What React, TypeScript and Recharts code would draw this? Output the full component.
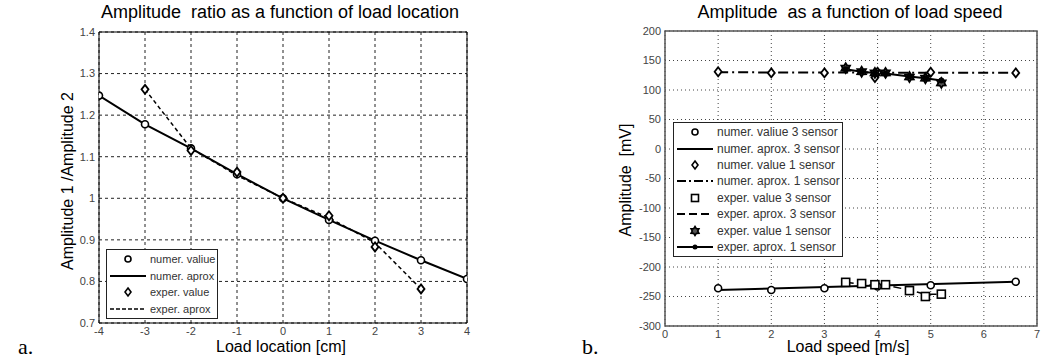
import React from 'react';
import { ComposedChart, Line, Scatter, XAxis, YAxis, CartesianGrid, ReferenceArea, Legend } from 'recharts';

// ---- Chart a: amplitude ratio vs load location ----
const locX = [-4, -3, -2, -1, 0, 1, 2, 3, 4];
const numerRatio = [1.247, 1.178, 1.12, 1.058, 1.0, 0.948, 0.898, 0.851, 0.806];
const experLocX = [-3, -2, -1, 0, 1, 2, 3];
const experRatio = [1.262, 1.115, 1.063, 1.0, 0.958, 0.883, 0.782];
const experAproxRatio = [1.262, 1.12, 1.055, 1.0, 0.953, 0.893, 0.782];
const locTicks = [-4, -3, -2, -1, 0, 1, 2, 3, 4];
const ratioTicks = [0.7, 0.8, 0.9, 1.0, 1.1, 1.2, 1.3, 1.4];

// ---- Chart b: amplitude vs load speed ----
const numSpeed = [1, 2, 3, 4, 5, 6.6];
const numer3 = [-236, -239, -236, -233, -231, -225];
const numer1Speed = [1, 2, 3, 3.95, 4, 5, 6.6];
const numer1 = [131, 129, 129, 121, 130, 130, 129];
const aproxSpeed = [1, 6.6];
const numer3Aprox = [-239, -225];
const numer1Aprox = [130, 129];
const expSpeed = [3.4, 3.7, 3.95, 4.15, 4.6, 4.9, 5.2];
const exper3 = [-226, -228, -230, -230, -240, -250, -246];
const exper3Aprox = [-226, -229, -231, -231, -239, -246, -246];
const exper1 = [137, 131, 129, 129, 122, 120, 112];
const exper1Aprox = [135, 131, 129, 128, 123, 120, 116];
const speedTicks = [0, 1, 2, 3, 4, 5, 6, 7];
const ampTicks = [-300, -250, -200, -150, -100, -50, 0, 50, 100, 150, 200];

const pts = (xs: number[], ys: number[]) => xs.map((x, i) => ({ x, y: ys[i] }));

const FONT = '"Liberation Sans", Arial, sans-serif';

const Circle = (p: any) => <circle cx={p.cx} cy={p.cy} r={3.5} fill="#fff" stroke="#000" strokeWidth={1.6} />;
const Diamond = (p: any) => (
  <path d={`M${p.cx},${p.cy - 4.5}L${p.cx + 3.5},${p.cy}L${p.cx},${p.cy + 4.5}L${p.cx - 3.5},${p.cy}Z`} fill="#fff" stroke="#000" strokeWidth={1.8} />
);
const Square = (p: any) => <rect x={p.cx - 4} y={p.cy - 4} width={8} height={8} fill="#fff" stroke="#000" strokeWidth={1.6} />;
const hexPath = (cx: number, cy: number, r: number) => {
  let d = '';
  for (let i = 0; i < 12; i++) {
    const a = (Math.PI / 6) * i - Math.PI / 2;
    const rr = i % 2 === 0 ? r : r * 0.6;
    d += (i === 0 ? 'M' : 'L') + (cx + rr * Math.cos(a)).toFixed(2) + ',' + (cy + rr * Math.sin(a)).toFixed(2);
  }
  return d + 'Z';
};
const Hexagram = (p: any) => <path d={hexPath(p.cx, p.cy, 5)} fill="#555" stroke="#000" strokeWidth={1.8} />;

const tickStyle = { fontFamily: FONT, fontSize: 11, fill: '#444' };

type LegendRow = { label: string; kind: string };

const MarkerIcon = ({ kind, w }: { kind: string; w: number }) => {
  const cx = w / 2, cy = 8;
  switch (kind) {
    case 'circle': return <circle cx={cx} cy={cy} r={3} fill="#fff" stroke="#000" strokeWidth={1.6} />;
    case 'diamond': return <path d={`M${cx},${cy - 4}L${cx + 3},${cy}L${cx},${cy + 4}L${cx - 3},${cy}Z`} fill="#fff" stroke="#000" strokeWidth={1.6} />;
    case 'square': return <rect x={cx - 3.5} y={cy - 3.5} width={7} height={7} fill="#fff" stroke="#000" strokeWidth={1.6} />;
    case 'hex': return <path d={hexPath(cx, cy, 4.5)} fill="#555" stroke="#000" strokeWidth={1.6} />;
    case 'solid': return <line x1={1} y1={cy} x2={w - 1} y2={cy} stroke="#000" strokeWidth={2} />;
    case 'dash': return <line x1={1} y1={cy} x2={w - 1} y2={cy} stroke="#000" strokeWidth={1.5} strokeDasharray="4 2" />;
    case 'longdash': return <line x1={1} y1={cy} x2={w - 1} y2={cy} stroke="#000" strokeWidth={2} strokeDasharray="8 4" />;
    case 'dashdot': return <line x1={1} y1={cy} x2={w - 1} y2={cy} stroke="#000" strokeWidth={2} strokeDasharray="9 3 2 3" />;
    case 'soliddot': return (
      <g>
        <line x1={1} y1={cy} x2={w - 1} y2={cy} stroke="#000" strokeWidth={2} />
        <circle cx={cx} cy={cy} r={2.5} fill="#000" />
      </g>
    );
    default: return null;
  }
};

const makeLegend = (rows: LegendRow[], iconW: number, rowH: number, fontSize: number) => () => (
  <div style={{ background: '#fff', border: '1px solid #222', padding: '1px 2px', fontFamily: FONT, fontSize, color: '#333' }}>
    {rows.map((r) => (
      <div key={r.label} style={{ display: 'flex', alignItems: 'center', height: rowH, whiteSpace: 'nowrap' }}>
        <svg width={iconW} height={16} style={{ marginRight: 3, flex: 'none' }}>
          <MarkerIcon kind={r.kind} w={iconW} />
        </svg>
        <span>{r.label}</span>
      </div>
    ))}
  </div>
);

const legendA: LegendRow[] = [
  { label: 'numer. valiue', kind: 'circle' },
  { label: 'numer. aprox', kind: 'solid' },
  { label: 'exper. value', kind: 'diamond' },
  { label: 'exper. aprox', kind: 'dash' },
];
const legendB: LegendRow[] = [
  { label: 'numer. valiue 3 sensor', kind: 'circle' },
  { label: 'numer. aprox. 3 sensor', kind: 'solid' },
  { label: 'numer. value 1 sensor', kind: 'diamond' },
  { label: 'numer. aprox. 1 sensor', kind: 'dashdot' },
  { label: 'exper. value 3 sensor', kind: 'square' },
  { label: 'exper. aprox. 3 sensor', kind: 'longdash' },
  { label: 'exper. value 1 sensor', kind: 'hex' },
  { label: 'exper. aprox. 1 sensor', kind: 'soliddot' },
];

const abs = (s: React.CSSProperties): React.CSSProperties => ({ position: 'absolute', fontFamily: FONT, color: '#000', whiteSpace: 'nowrap', ...s });

export default function App() {
  return (
    <div style={{ position: 'absolute', left: 0, top: 0, width: 1054, height: 360, background: '#fff', overflow: 'hidden' }}>
      {/* Chart a */}
      <div style={{ position: 'absolute', left: 0, top: 0 }}>
        <ComposedChart width={527} height={360} margin={{ top: 32, right: 60, bottom: 0, left: 0 }}>
          <CartesianGrid stroke="#222" strokeDasharray="3 3" horizontalValues={ratioTicks} verticalValues={locTicks} />
          <XAxis dataKey="x" type="number" domain={[-4, 4]} ticks={locTicks} height={37} tickLine={false} tickSize={4} tickMargin={0} axisLine={false} tick={tickStyle} interval={0} allowDataOverflow />
          <YAxis type="number" domain={[0.7, 1.4]} ticks={ratioTicks} width={99} tickLine={false} tickSize={4} tickMargin={0} axisLine={false} tick={tickStyle} interval={0} tickFormatter={(v: number) => String(+v.toFixed(1))} allowDataOverflow />
          <ReferenceArea x1={-4} x2={4} y1={0.7} y2={1.4} fill="none" stroke="#000" strokeWidth={1} ifOverflow="visible" />
          <Line data={pts(locX, numerRatio)} dataKey="y" type="linear" stroke="#000" strokeWidth={2} dot={false} isAnimationActive={false} legendType="none" />
          <Line data={pts(experLocX, experAproxRatio)} dataKey="y" type="linear" stroke="#000" strokeWidth={1.5} strokeDasharray="4 3" dot={false} isAnimationActive={false} legendType="none" />
          <Scatter data={pts(locX, numerRatio)} dataKey="y" shape={<Circle />} isAnimationActive={false} legendType="none" />
          <Scatter data={pts(experLocX, experRatio)} dataKey="y" shape={<Diamond />} isAnimationActive={false} legendType="none" />
          <Legend layout="vertical" align="center" verticalAlign="middle" content={makeLegend(legendA, 38, 16.5, 11)} wrapperStyle={{ left: 106, top: 249, width: 'auto' }} />
        </ComposedChart>
      </div>
      <div style={abs({ left: 280, top: 2, transform: 'translateX(-50%)', fontSize: 18 })}>Amplitude&nbsp; ratio as a function of load location</div>
      <div style={abs({ left: 281, top: 338, transform: 'translateX(-50%)', fontSize: 16 })}>Load location [cm]</div>
      <div style={abs({ left: 68, top: 181, transform: 'translate(-50%,-50%) rotate(-90deg)', fontSize: 16 })}>Amplitude 1 /Amplitude 2</div>
      <div style={{ position: 'absolute', left: 18, top: 334, fontFamily: '"Liberation Serif", "Times New Roman", serif', fontSize: 22 }}>a.</div>

      {/* Chart b */}
      <div style={{ position: 'absolute', left: 527, top: 0 }}>
        <ComposedChart width={527} height={360} margin={{ top: 31, right: 17, bottom: 0, left: 0 }}>
          <CartesianGrid stroke="#444" strokeDasharray="1 3" horizontalValues={ampTicks} verticalValues={speedTicks} />
          <XAxis dataKey="x" type="number" domain={[0, 7]} ticks={speedTicks} height={34} tickLine={false} tickSize={4} tickMargin={0} axisLine={false} tick={tickStyle} interval={0} allowDataOverflow />
          <YAxis type="number" domain={[-300, 200]} ticks={ampTicks} width={138} tickLine={false} tickSize={4} tickMargin={0} axisLine={false} tick={tickStyle} interval={0} allowDataOverflow />
          <ReferenceArea x1={0} x2={7} y1={-300} y2={200} fill="none" stroke="#555" strokeWidth={1.5} ifOverflow="visible" />
          <Line data={pts(aproxSpeed, numer3Aprox)} dataKey="y" type="linear" stroke="#000" strokeWidth={2} dot={false} isAnimationActive={false} legendType="none" />
          <Line data={pts(aproxSpeed, numer1Aprox)} dataKey="y" type="linear" stroke="#000" strokeWidth={2} strokeDasharray="10 4 2 4" dot={false} isAnimationActive={false} legendType="none" />
          <Line data={pts(expSpeed, exper3Aprox)} dataKey="y" type="linear" stroke="#000" strokeWidth={1.5} strokeDasharray="8 4" dot={false} isAnimationActive={false} legendType="none" />
          <Line data={pts(expSpeed, exper1Aprox)} dataKey="y" type="linear" stroke="#000" strokeWidth={2} dot={{ r: 2, fill: '#000', stroke: '#000' }} isAnimationActive={false} legendType="none" />
          <Scatter data={pts(numSpeed, numer3)} dataKey="y" shape={<Circle />} isAnimationActive={false} legendType="none" />
          <Scatter data={pts(numer1Speed, numer1)} dataKey="y" shape={<Diamond />} isAnimationActive={false} legendType="none" />
          <Scatter data={pts(expSpeed, exper3)} dataKey="y" shape={<Square />} isAnimationActive={false} legendType="none" />
          <Scatter data={pts(expSpeed, exper1)} dataKey="y" shape={<Hexagram />} isAnimationActive={false} legendType="none" />
          <Legend layout="vertical" align="center" verticalAlign="middle" content={makeLegend(legendB, 38, 16.4, 12)} wrapperStyle={{ left: 146, top: 122, width: 'auto' }} />
        </ComposedChart>
      </div>
      <div style={abs({ left: 527 + 323, top: 2, transform: 'translateX(-50%)', fontSize: 18 })}>Amplitude&nbsp; as a function of load speed</div>
      <div style={abs({ left: 527 + 321, top: 338, transform: 'translateX(-50%)', fontSize: 16 })}>Load speed [m/s]</div>
      <div style={abs({ left: 527 + 99, top: 180, transform: 'translate(-50%,-50%) rotate(-90deg)', fontSize: 16 })}>Amplitude&nbsp; [mV]</div>
      <div style={{ position: 'absolute', left: 527 + 55, top: 334, fontFamily: '"Liberation Serif", "Times New Roman", serif', fontSize: 22 }}>b.</div>
    </div>
  );
}
